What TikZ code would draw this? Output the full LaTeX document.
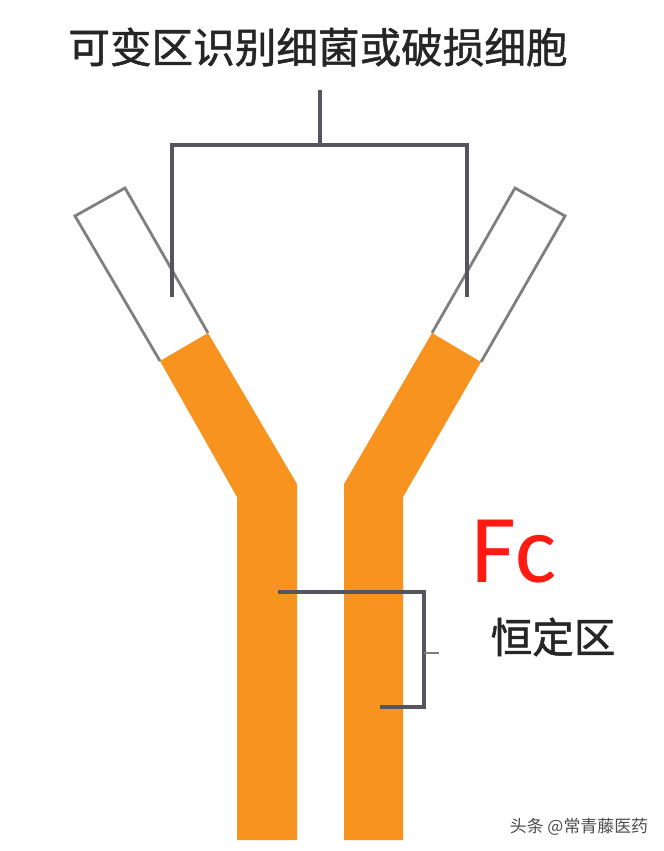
\documentclass[tikz,border=0pt]{standalone}
\usepackage{fontspec}
\newfontfamily\cjk{Noto Sans CJK SC}
\newfontfamily\cjkheavy[FakeBold=1.2]{Noto Sans CJK SC}
\newfontfamily\latinfc{Carlito}
\definecolor{armorange}{HTML}{F7931E}
\definecolor{armline}{HTML}{7F7F7F}
\definecolor{bracketline}{HTML}{55555F}
\definecolor{fcred}{HTML}{FF1A12}
\tikzset{
  armfill/.style={fill=armorange,draw=none},
  armtip/.style={draw=armline,line width=2.1pt,line join=miter},
  bracket/.style={draw=bracketline,line width=2.6pt,line join=miter},
  cjklabel/.style={inner sep=0pt,text=black!85,font=\cjkheavy\fontsize{31.2}{33}\selectfont},
}
\begin{document}
\begin{tikzpicture}[x=0.75pt,y=-0.75pt]
\useasboundingbox (0,0) rectangle (664,851);

% left arm
\fill[armfill] (160,361) -- (208,333) -- (297,484) -- (297,840) -- (237,840) -- (237,497) -- cycle;
\draw[armtip] (160,361) -- (75,216) -- (125,188) -- (208,333);

% right arm
\fill[armfill] (432,333) -- (481,362) -- (403,497) -- (403,840) -- (344,840) -- (344,484) -- cycle;
\draw[armtip] (432,333) -- (515,188) -- (565,216) -- (481,362);

% upper bracket
\node[cjklabel] (varlabel) at (318,47) {可变区识别细菌或破损细胞};
\coordinate (upstem) at (320,90);
\coordinate (upmid) at (320,145);
\coordinate (upleft) at (172,297);
\coordinate (upright) at (467,297);
\draw[bracket] (upstem) -- (upmid);
\draw[bracket] (upleft) |- (upmid) -| (upright);

% lower bracket
\coordinate (lowtop) at (278,592);
\coordinate (lowbot) at (380,707);
\coordinate (lowcorner) at (424,592);
\coordinate (lowmid) at (424,653);
\coordinate (lowtick) at (439,653);
\draw[bracket] (lowtop) -- (lowcorner) |- (lowbot);
\draw[draw=armline,line width=1.8pt] (lowmid) -- (lowtick);

\node[inner sep=0pt,text=fcred,font=\latinfc\fontsize{73}{75}\selectfont] (fclabel) at (514,552) {Fc};
\node[cjklabel] (constlabel) at (553,637) {恒定区};
\node[inner sep=0pt,text=black!70,font=\cjk\fontsize{12.7}{14}\selectfont] (marklabel) at (579,827) {头条 @常青藤医药};

\end{tikzpicture}
\end{document}
